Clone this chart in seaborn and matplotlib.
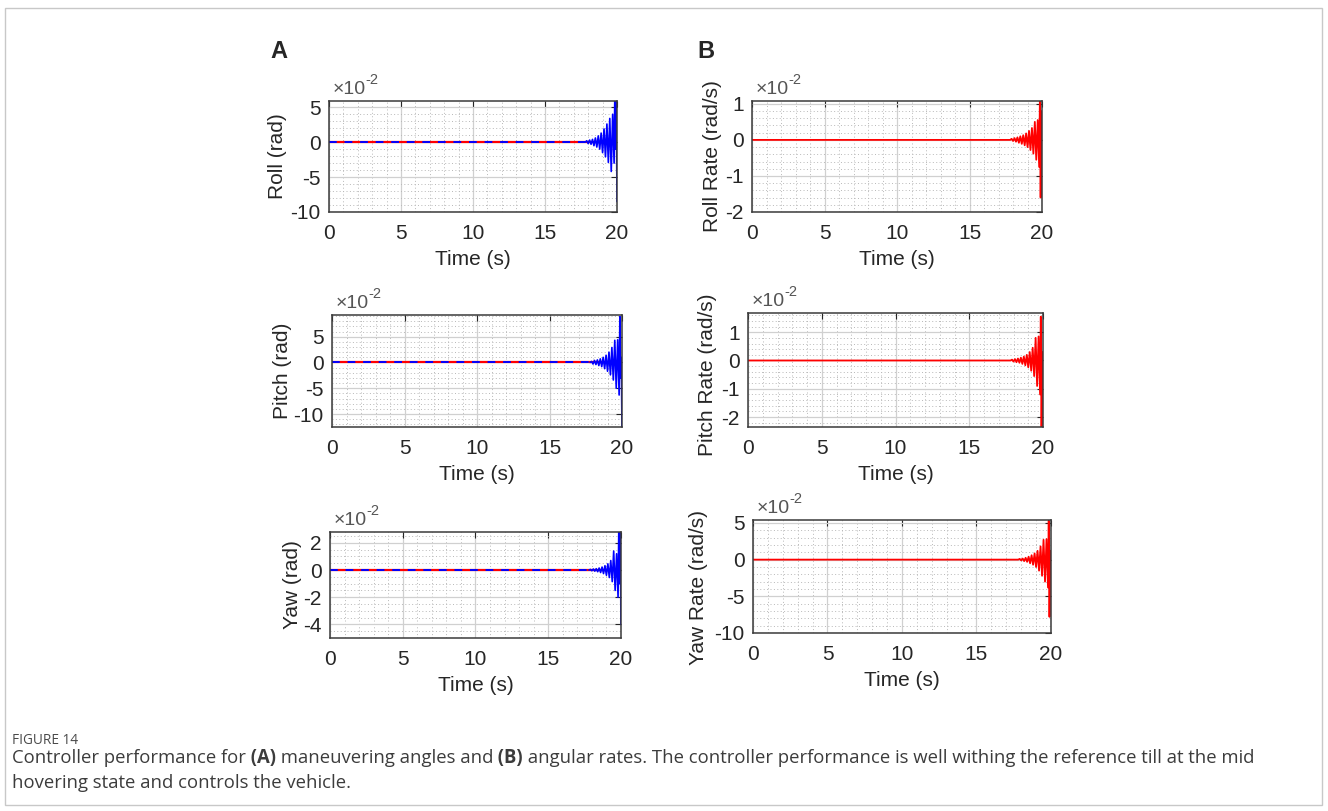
# controller performance: attitude angles (A) and angular rates (B)

import matplotlib
matplotlib.use("Agg")
import matplotlib.pyplot as plt
from matplotlib.ticker import MultipleLocator
from matplotlib.patches import Rectangle
import seaborn as sns

# time samples (s); flat until ~17.8 s, then the oscillation near the end
time_s = [0.0, 17.8, 17.9, 18.0, 18.1, 18.2, 18.3, 18.4, 18.5, 18.6, 18.7, 18.8, 18.9,
          19.0, 19.1, 19.2, 19.3, 19.4, 19.5, 19.6, 19.7, 19.8, 19.85, 19.9, 19.95, 20.0]

# angles, x1e-2 rad (blue = response, red = reference)
roll = [0, 0, 0.2, -0.2, 0.3, -0.3, 0.4, -0.5, 0.6, -0.7, 0.9, -1.0, 1.3,
        -1.5, 1.9, -2.1, 2.6, -2.9, 3.4, -4.2, 4.0, -3.0, 7.0, -1.0, 7.0, -8.5]
pitch = [0, 0, 0.2, -0.3, 0.4, -0.4, 0.5, -0.6, 0.7, -0.8, 1.0, -1.2, 1.4,
         -1.7, 2.0, -2.4, 2.9, -3.4, 4.3, -5.0, 4.4, -6.3, 8.9, -3.0, 1.0, -14.0]
yaw = [0, 0, 0.05, -0.05, 0.08, -0.08, 0.1, -0.12, 0.15, -0.18, 0.22, -0.26, 0.32,
       -0.38, 0.46, -0.55, 0.7, -0.85, 1.4, -1.5, 1.2, -2.0, 3.0, -1.0, 3.0, -4.0]
ref_time = [0.0, 20.0]
ref_angle = [0.0, 0.0]

# angular rates, x1e-2 rad/s
roll_rate = [0, 0, 0.03, -0.03, 0.05, -0.05, 0.07, -0.08, 0.1, -0.11, 0.13, -0.15, 0.18,
             -0.2, 0.25, -0.28, 0.33, -0.38, 0.5, -0.55, 0.55, -0.75, 1.2, -1.6, 0.8, 0.65]
pitch_rate = [0, 0, 0.03, -0.04, 0.05, -0.06, 0.07, -0.08, 0.1, -0.12, 0.14, -0.17, 0.2,
              -0.24, 0.3, -0.36, 0.45, -0.55, 0.8, -0.9, 0.85, -1.2, 1.55, -2.6, 0.3, 0.3]
yaw_rate = [0, 0, 0.1, -0.1, 0.15, -0.2, 0.25, -0.3, 0.4, -0.5, 0.6, -0.7, 0.85,
            -1.0, 1.2, -1.5, 1.8, -2.2, 2.7, -3.0, 2.8, -3.8, 5.3, -7.8, 1.2, 1.2]

sns.set_style("white")
plt.rcParams["font.family"] = ["Liberation Sans", "DejaVu Sans"]
plt.rcParams["axes.unicode_minus"] = False

fig = plt.figure(figsize=(13.28, 8.11), dpi=100)

# (values, ylabel, is_angle, rect, ylim, yticks, yminor, label coords)
panels = [
    (roll, "Roll (rad)", True, [0.2477, 0.7386, 0.2169, 0.1369], (-10, 5.9), [-10, -5, 0, 5], 1, (-0.146, 0.5)),
    (pitch, "Pitch (rad)", True, [0.2500, 0.4735, 0.2184, 0.1381], (-12.5, 9.2), [-10, -5, 0, 5], 1, (-0.138, 0.5)),
    (yaw, "Yaw (rad)", True, [0.2485, 0.2133, 0.2191, 0.1307], (-5, 2.8), [-4, -2, 0, 2], 0.5, (-0.096, 0.5)),
    (roll_rate, "Roll Rate (rad/s)", False, [0.5663, 0.7386, 0.2184, 0.1369], (-2, 1.08), [-2, -1, 0, 1], 0.2, (-0.103, 0.5)),
    (pitch_rate, "Pitch Rate (rad/s)", False, [0.5633, 0.4735, 0.2221, 0.1406], (-2.35, 1.68), [-2, -1, 0, 1], 0.2, (-0.105, 0.456)),
    (yaw_rate, "Yaw Rate (rad/s)", False, [0.5670, 0.2195, 0.2244, 0.1393], (-10, 5.4), [-10, -5, 0, 5], 1, (-0.151, 0.40)),
]

for vals, ylab, is_angle, rect, ylim, yticks, yminor, lab_xy in panels:
    ax = fig.add_axes(rect)
    if is_angle:
        sns.lineplot(x=ref_time, y=ref_angle, ax=ax, color="#ff0000", lw=1.6,
                     estimator=None, sort=False)
        # dashed while flat, the dense oscillation reads as a solid trace
        sns.lineplot(x=time_s[:2], y=vals[:2], ax=ax, color="#0000ff", lw=1.4,
                     linestyle=(0, (4, 4)), estimator=None, sort=False)
        sns.lineplot(x=time_s[1:], y=vals[1:], ax=ax, color="#0000ff", lw=1.2,
                     estimator=None, sort=False)
    else:
        sns.lineplot(x=time_s, y=vals, ax=ax, color="#ff0000", lw=1.3,
                     estimator=None, sort=False)

    ax.set_xlim(0, 20)
    ax.set_ylim(*ylim)
    ax.set_xticks([0, 5, 10, 15, 20])
    ax.set_yticks(yticks)
    ax.xaxis.set_minor_locator(MultipleLocator(1))
    ax.yaxis.set_minor_locator(MultipleLocator(yminor))
    ax.set_axisbelow(True)
    ax.grid(which="major", color="#d0d0d0", lw=0.9, ls="-")
    ax.grid(which="minor", color="#b8b8b8", lw=0.7, ls=(0, (1, 2.5)))
    ax.tick_params(which="major", direction="in", length=4, width=0.8,
                   top=True, right=True, labelsize=15, colors="#262626", pad=6)
    ax.tick_params(axis="x", which="major", pad=8.5)
    ax.tick_params(which="minor", length=0)
    for sp in ax.spines.values():
        sp.set_color("#3a3a3a")
        sp.set_linewidth(1.1)

    ax.set_xlabel("Time (s)", fontsize=15, color="#262626", labelpad=5)
    ax.set_ylabel(ylab, fontsize=15, color="#262626")
    ax.yaxis.set_label_coords(*lab_xy)

    # matlab style exponent
    t1 = ax.text(0.012, 1.03, "\u00d710", transform=ax.transAxes, fontsize=14,
                 color="#555555", ha="left", va="bottom")
    ax.annotate("-2", xy=(1.0, 0.62), xycoords=t1, fontsize=10.5,
                color="#555555", ha="left", va="bottom")

fig.text(270 / 1328, 1 - 52 / 811, "A", fontsize=17, fontweight="bold", va="center", ha="left")
fig.text(697 / 1328, 1 - 52 / 811, "B", fontsize=17, fontweight="bold", va="center", ha="left")

# caption
cap_font = ["Open Sans", "DejaVu Sans"]
fig.text(12 / 1328, 1 - 740 / 811, "FIGURE 14", fontsize=9.8, color="#4a4a4a",
         family=cap_font, va="center")

renderer = fig.canvas.get_renderer()
runs = [("Controller performance for", "normal"), (" (A)", "bold"),
        (" maneuvering angles and", "normal"), (" (B)", "bold"),
        (" angular rates. The controller performance is well withing the reference till at the mid", "normal")]
x = 12 / 1328
for s, w in runs:
    t = fig.text(x, 1 - 758 / 811, s, fontsize=13.35, fontweight=w, color="#3c3c3c",
                 family=cap_font, va="center")
    bb = t.get_window_extent(renderer=renderer)
    x = bb.x1 / fig.bbox.width
fig.text(12 / 1328, 1 - 783 / 811, "hovering state and controls the vehicle.", fontsize=13.35,
         color="#3c3c3c", family=cap_font, va="center")

# outer frame
fig.patches.append(Rectangle((5 / 1328, 6 / 811), 1317 / 1328, 797 / 811, transform=fig.transFigure,
                             fill=False, edgecolor="#c8c8c8", lw=1.0))

fig.savefig("out.png", dpi=100)
